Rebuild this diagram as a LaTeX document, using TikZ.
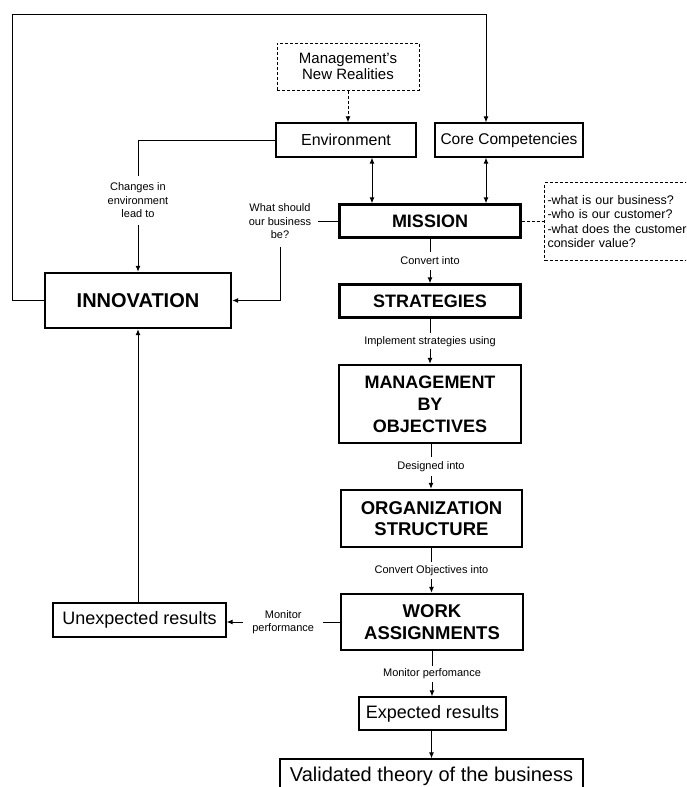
\documentclass[tikz,border=0pt]{standalone}
\usepackage{fontspec}
\setmainfont{Liberation Sans}
\usetikzlibrary{arrows.meta,calc}
\begin{document}
\begin{tikzpicture}[x=1pt,y=-1pt,
  box/.style={draw, line width=1.2pt, rectangle, inner sep=0pt, align=center},
  bbox/.style={box, line width=2.4pt},
  dbox/.style={draw, line width=1pt, dash pattern=on 3pt off 2pt, rectangle, inner sep=0pt},
  lbl/.style={font=\fontsize{11}{13.5}\selectfont, align=center, fill=white, inner xsep=1pt, inner ysep=4pt},
  conn/.style={line width=1pt},
  arr/.style={conn, -{Latex[length=6pt,width=5pt]}},
  darr/.style={conn, {Latex[length=6pt,width=5pt]}-{Latex[length=6pt,width=5pt]}},
  dconn/.style={conn, dash pattern=on 3pt off 2pt}
]
\useasboundingbox (0,0) rectangle (686,787);
\clip (0,0) rectangle (686,787);

% nodes
\node[dbox, minimum width=142, minimum height=47, align=center, font=\fontsize{15}{16}\selectfont] (mnr) at (348,66.5) {Management's\\New Realities};
\node[box, minimum width=140, minimum height=34, font=\fontsize{16}{19}\selectfont] (env) at (346,140) {Environment};
\node[box, minimum width=148, minimum height=34, font=\fontsize{15.5}{19}\selectfont] (core) at (509,140) {Core Competencies};
\node[bbox, minimum width=186, minimum height=55, font=\fontsize{20}{24}\selectfont\bfseries] (innov) at (138,300.5) {INNOVATION};
\node[bbox, minimum width=181, minimum height=33, font=\fontsize{18}{22}\selectfont\bfseries] (mission) at (430,221) {MISSION};
\node[bbox, minimum width=181, minimum height=33, font=\fontsize{18}{22}\selectfont\bfseries] (strat) at (430,301) {STRATEGIES};
\node[bbox, minimum width=182, minimum height=78, font=\fontsize{18}{22}\selectfont\bfseries] (mbo) at (430,404) {MANAGEMENT\\BY\\OBJECTIVES};
\node[bbox, minimum width=181, minimum height=57, font=\fontsize{18.5}{21.5}\selectfont\bfseries] (org) at (431.5,518.5) {ORGANIZATION\\STRUCTURE};
\node[bbox, minimum width=182, minimum height=56, font=\fontsize{18.5}{21.5}\selectfont\bfseries] (work) at (432,622) {WORK\\ASSIGNMENTS};
\node[box, minimum width=173, minimum height=34, font=\fontsize{18}{22}\selectfont] (unexp) at (139.5,620) {Unexpected results};
\node[box, minimum width=147, minimum height=33, font=\fontsize{18}{22}\selectfont] (exp) at (432.5,713.5) {Expected results};
\node[box, minimum width=303, minimum height=34, font=\fontsize{20}{24}\selectfont] (valid) at (431.5,776) {Validated theory of the business};
\node[dbox, anchor=north west, minimum width=170, minimum height=78, text width=164, align=left, inner xsep=3pt, font=\fontsize{12.5}{14.3}\selectfont] (qbox) at (544,182) {-what is our business?\\-who is our customer?\\-what does the customer\\consider value?};

% side labels
\node[font=\fontsize{11}{13.5}\selectfont, align=center, inner xsep=2pt, inner ysep=7pt] (chg) at (138,200.5) {Changes in\\environment\\lead to};
\node[font=\fontsize{11}{13.5}\selectfont, align=center, inner xsep=7pt, inner ysep=8pt] (wq) at (280,221.5) {What should\\our business\\be?};

\coordinate (topL) at (12,14);
\coordinate (topR) at (486,14);

% connectors
\draw[arr] (innov.west) -| (topL) -- (topR) -- (topR |- core.north);
\draw[dconn, -{Latex[length=6pt,width=5pt]}] (mnr.south) -- (mnr.south |- env.north);
\draw[conn] (env.west) -| (chg.north);
\draw[arr] (chg.south) -- (innov.north);
\draw[darr] ([xshift=26pt]env.south) -- ([xshift=26pt]env.south |- mission.north);
\draw[darr] ([xshift=-23pt]core.south) -- ([xshift=-23pt]core.south |- mission.north);
\draw[conn] (wq.east |- mission.west) -- (mission.west);
\draw[arr] (wq.south) |- (innov.east);
\draw[dconn] (mission.east) -- (qbox.west |- mission.east);

\draw[arr] (mission.south) -- node[lbl, inner ysep=5pt] {Convert into} (mission.south |- strat.north);
\draw[arr] (strat.south) -- node[lbl, inner ysep=3pt] {Implement strategies using} (strat.south |- mbo.north);
\draw[arr] ([xshift=1pt]mbo.south) -- node[lbl, inner ysep=4pt] {Designed into} ([xshift=1pt]mbo.south |- org.north);
\draw[arr] (org.south) -- node[lbl, inner ysep=3pt] {Convert Objectives into} (org.south |- work.north);
\draw[arr] (work.south) -- node[lbl, inner ysep=3pt] {Monitor perfomance} (work.south |- exp.north);
\draw[arr] ([xshift=-1pt]exp.south) -- ([xshift=-1pt]exp.south |- valid.north);
\draw[arr] (work.west) -- node[lbl, inner xsep=9pt, inner ysep=1pt] {Monitor\\performance} (work.west -| unexp.east);
\draw[arr] (innov.south |- unexp.north) -- (innov.south);
\end{tikzpicture}
\end{document}
